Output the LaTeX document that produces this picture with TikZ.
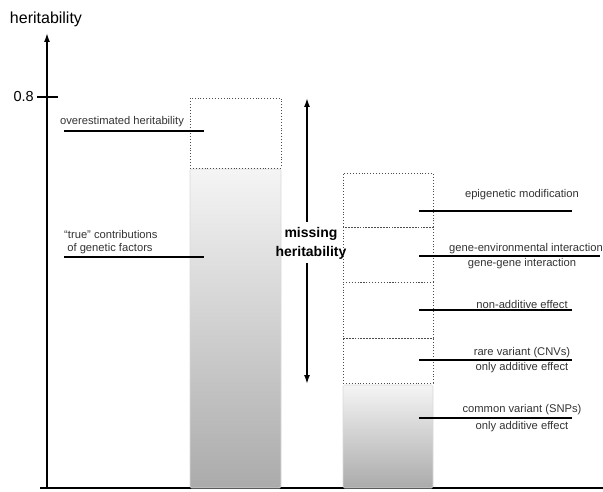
\documentclass[tikz,border=0pt]{standalone}
\usepackage{fontspec}
\setmainfont{Liberation Sans}
\usetikzlibrary{arrows.meta}
\begin{document}
\begin{tikzpicture}[x=1pt,y=-1pt,
  dotbox/.style={draw=black!70, dotted, line width=0.9pt, inner sep=0, outer sep=0, anchor=north west},
  gbar/.style={draw=black!15, line width=0.6pt, top color=black!4, bottom color=black!33, inner sep=0, outer sep=0, anchor=north west, rounded corners=1.5pt},
  lbl/.style={font=\fontsize{11.2}{13}\selectfont, text=black!80, inner sep=0, align=center},
  lead/.style={line width=1.5pt},
  axis/.style={line width=1.6pt},
  tip/.style={-{Latex[length=9pt,width=6pt]}}
]
\useasboundingbox (0,0) rectangle (603,492);
% axes
\coordinate (o) at (47,488);
\coordinate (ytop) at (47,33);
\coordinate (xl) at (40,488);
\coordinate (xr) at (603,488);
\draw[axis] (xl) -- (xr);
\draw[axis,tip] (o) -- (ytop);
\node[font=\fontsize{16}{18}\selectfont, inner sep=0] (ylab) at (46,19) {heritability};
\coordinate (t1) at (37,97);
\coordinate (t2) at (58,97);
\draw[axis] (t1) -- (t2);
\node[font=\fontsize{14.5}{16}\selectfont, inner sep=0, anchor=east] (v08) at (34,97) {0.8};
% left bar
\node[gbar, minimum width=91pt, minimum height=319pt] (lbar) at (190,169) {};
\node[dotbox, minimum width=91pt, minimum height=70pt] (over) at (190,98) {};
% right bar
\node[gbar, minimum width=90pt, minimum height=103pt] (rbar) at (343,385) {};
\node[dotbox, minimum width=90pt, minimum height=54pt] (b1) at (343,173) {};
\node[dotbox, minimum width=90pt, minimum height=55pt] (b2) at (343,227) {};
\node[dotbox, minimum width=90pt, minimum height=56pt] (b3) at (343,282) {};
\node[dotbox, minimum width=90pt, minimum height=45pt] (b4) at (343,338) {};
% left leaders
\coordinate (la1) at (64,131); \coordinate (lb1) at (204,131);
\draw[lead] (la1) -- (lb1);
\node[lbl, anchor=south] (tover) at (122,127) {overestimated heritability};
\coordinate (la2) at (64,257); \coordinate (lb2) at (204,257);
\draw[lead] (la2) -- (lb2);
\node[lbl, align=left, anchor=south west] (ttrue) at (64,254) {``true'' contributions\\\ of genetic factors};
% missing heritability
\node[font=\bfseries\fontsize{14}{19}\selectfont, inner sep=0, align=center] (mh) at (311,243) {missing\\heritability};
\coordinate (mtop) at (307,98);
\coordinate (mbot) at (307,384);
\draw[axis,tip] (307,222) -- (mtop);
\draw[axis,tip] (307,263) -- (mbot);
% right leaders
\coordinate (ra1) at (419,211); \coordinate (rb1) at (572,211);
\draw[lead] (ra1) -- (rb1);
\node[lbl] (tepi) at (522,195) {epigenetic modification};
\coordinate (ra2) at (419,256); \coordinate (rb2) at (600,256);
\draw[lead] (ra2) -- (rb2);
\node[lbl] (tenv) at (526,249) {gene-environmental interaction};
\node[lbl] (tgg) at (522,264) {gene-gene interaction};
\coordinate (ra3) at (419,310); \coordinate (rb3) at (572,310);
\draw[lead] (ra3) -- (rb3);
\node[lbl] (tna) at (522,304) {non-additive effect};
\coordinate (ra4) at (419,360); \coordinate (rb4) at (572,360);
\draw[lead] (ra4) -- (rb4);
\node[lbl] (trare) at (522,353) {rare variant (CNVs)};
\node[lbl] (trare2) at (522,368) {only additive effect};
\coordinate (ra5) at (419,418); \coordinate (rb5) at (572,418);
\draw[lead] (ra5) -- (rb5);
\node[lbl] (tcom) at (522,410) {common variant (SNPs)};
\node[lbl] (tcom2) at (522,427) {only additive effect};
\end{tikzpicture}
\end{document}
